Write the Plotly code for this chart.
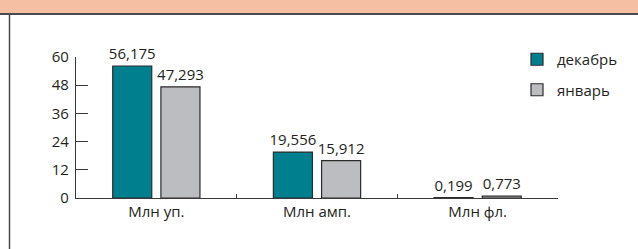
import plotly.graph_objects as go

categories = ["Млн уп.", "Млн амп.", "Млн фл."]
dec_values = [56.175, 19.556, 0.199]
jan_values = [47.293, 15.912, 0.773]
series_names = ["декабрь", "январь"]
y_ticks = [0, 12, 24, 36, 48, 60]

W, H = 638, 249
L, R, T, B = 76, 80, 57, 51
pw, ph = W - L - R, H - T - B

def px_x(x):
    return (x - L) / pw

def px_y(y):
    return (H - B - y) / ph

FONT = "Open Sans, Noto Sans, sans-serif"
TXT = "#231f20"

fig = go.Figure()
for name, vals, col, grp in [
    (series_names[0], dec_values, "#00808f", "a"),
    (series_names[1], jan_values, "#bcbdc0", "b"),
]:
    fig.add_trace(go.Bar(
        x=categories, y=vals, name=name,
        marker=dict(color=col, line=dict(color="#2b2b2b", width=1.2)),
        texttemplate="%{y:.3f}", textposition="outside",
        textfont=dict(size=15, color=TXT, family=FONT),
        constraintext="none", cliponaxis=False,
        legendgroup=grp,
    ))

fig.update_layout(
    width=W, height=H,
    margin=dict(l=L, r=R, t=T, b=B, pad=0, autoexpand=False),
    paper_bgcolor="white", plot_bgcolor="white",
    separators=", ",
    barmode="group", bargap=0.40, bargroupgap=0.19,
    font=dict(family=FONT, size=15, color=TXT),
    showlegend=True,
    legend=dict(x=px_x(517), y=px_y(43), xanchor="left", yanchor="top",
                font=dict(size=15, color=TXT, family=FONT),
                tracegroupgap=8, traceorder="grouped",
                bgcolor="rgba(0,0,0,0)"),
    xaxis=dict(showline=True, linecolor="#3a3a3a", linewidth=1.2,
               ticks="inside", ticklen=4, tickwidth=1.2, tickcolor="#3a3a3a",
               tickson="boundaries", showgrid=False, zeroline=False,
               automargin=False,
               tickfont=dict(size=15, color=TXT, family=FONT)),
    yaxis=dict(range=[0, 60], tickvals=y_ticks, showline=True,
               linecolor="#3a3a3a", linewidth=1.2,
               ticks="inside", ticklen=12, tickwidth=1.2, tickcolor="#3a3a3a",
               showgrid=False, zeroline=False, ticklabelstandoff=3,
               automargin=False,
               tickfont=dict(size=15, color=TXT, family=FONT)),
    shapes=[
        dict(type="rect", xref="paper", yref="paper",
             x0=px_x(0), x1=px_x(W), y0=px_y(14), y1=px_y(0),
             fillcolor="#f4bfa3", line=dict(width=0), layer="below"),
        dict(type="line", xref="paper", yref="paper",
             x0=px_x(0), x1=px_x(W), y0=px_y(14), y1=px_y(14),
             line=dict(color="#4a4a4a", width=2)),
        dict(type="line", xref="paper", yref="paper",
             x0=px_x(9.5), x1=px_x(9.5), y0=px_y(14), y1=px_y(H),
             line=dict(color="#4a4a4a", width=1.5)),
    ],
)

fig.write_html(
    "out.html", config={"displayModeBar": False},
    post_script=(
        "var s=document.createElement('style');"
        "s.textContent='html,body{margin:0;padding:0;overflow:hidden;"
        "scrollbar-width:none;}::-webkit-scrollbar{display:none;width:0;height:0;}';"
        "document.head.appendChild(s);window.scrollTo(0,0);"))
